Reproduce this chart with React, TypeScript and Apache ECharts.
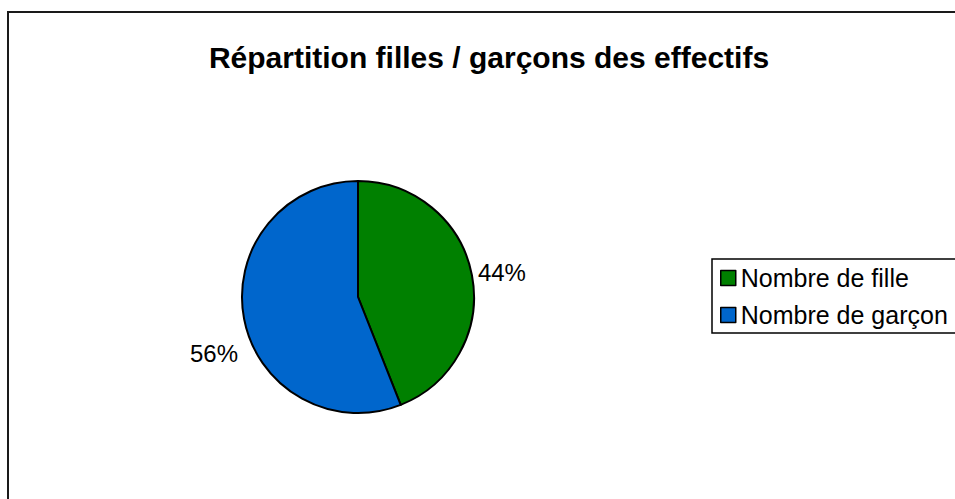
import React, { useEffect, useRef } from "react";
import * as echarts from "echarts";

const titleText = "Répartition filles / garçons des effectifs";
const categories = ["Nombre de fille", "Nombre de garçon"];
const values = [44, 56];
const colors = ["#008000", "#0066CC"];

const FONT = "'Liberation Sans', Arial, sans-serif";

export default function App() {
  const ref = useRef<HTMLDivElement>(null);
  useEffect(() => {
    if (!ref.current) return;
    const chart = echarts.init(ref.current, undefined, { renderer: "svg" });
    chart.setOption({
      animation: false,
      backgroundColor: "#ffffff",
      title: {
        text: titleText,
        left: 484,
        top: 37,
        textAlign: "center",
        textStyle: { fontFamily: FONT, fontSize: 30, fontWeight: "bold", color: "#000" },
      },
      graphic: [
        {
          type: "rect",
          shape: { x: 8, y: 12, width: 1200, height: 800 },
          style: { fill: "none", stroke: "#1a1a1a", lineWidth: 2 },
          silent: true,
        },
        {
          type: "rect",
          shape: { x: 712, y: 259, width: 400, height: 74 },
          style: { fill: "none", stroke: "#000", lineWidth: 1.5 },
          silent: true,
        },
      ],
      legend: {
        orient: "vertical",
        left: 720,
        top: 265,
        padding: 0,
        itemWidth: 15,
        itemHeight: 15,
        itemGap: 11,
        icon: "rect",
        itemStyle: { borderColor: "#000", borderWidth: 1.5 },
        textStyle: { fontFamily: FONT, fontSize: 25, color: "#000", lineHeight: 26 },
        data: categories,
      },
      series: [
        {
          type: "pie",
          center: [358, 297],
          radius: 116,
          startAngle: 90,
          clockwise: true,
          itemStyle: { borderColor: "#000", borderWidth: 2 },
          label: {
            show: true,
            position: "outside",
            formatter: "{d}%",
            fontFamily: FONT,
            fontSize: 24,
            color: "#000",
            distanceToLabelLine: 5,
          },
          labelLine: { show: false, length: 1, length2: 0 },
          labelLayout: (p: any) => (p.dataIndex === 1 ? { dy: 35 } : { dy: -3 }),
          emphasis: { disabled: true },
          data: categories.map((c, i) => ({ name: c, value: values[i], itemStyle: { color: colors[i] } })),
        },
      ],
    });
    return () => chart.dispose();
  }, []);
  return (
    <div
      ref={ref}
      style={{ position: "fixed", left: 0, top: 0, width: 955, height: 499 }}
    />
  );
}
